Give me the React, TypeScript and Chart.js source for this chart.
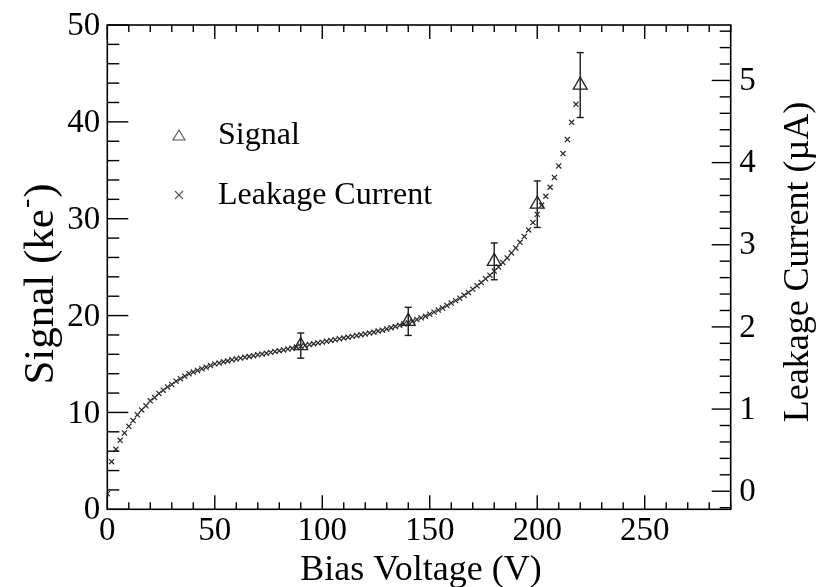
import React, { useEffect, useRef } from "react";
import { Chart, registerables } from "chart.js";

Chart.register(...registerables);

const WIDTH = 822;
const HEIGHT = 587;
const SERIF = '"Liberation Serif", "Times New Roman", Times, serif';

// Signal measurements (bias voltage in V, signal in ke-, symmetric error)
const signalVoltage = [90, 140, 180, 200, 220];
const signalKe = [16.9, 19.4, 25.6, 31.5, 43.8];
const signalErr = [1.3, 1.45, 1.9, 2.4, 3.35];

// Leakage current sweep (bias voltage in V, current in uA)
const leakageVoltage = [
  0, 2, 4, 6, 8, 10, 12, 14, 16, 18,
  20, 22, 24, 26, 28, 30, 32, 34, 36, 38,
  40, 42, 44, 46, 48, 50, 52, 54, 56, 58,
  60, 62, 64, 66, 68, 70, 72, 74, 76, 78,
  80, 82, 84, 86, 88, 90, 92, 94, 96, 98,
  100, 102, 104, 106, 108, 110, 112, 114, 116, 118,
  120, 122, 124, 126, 128, 130, 132, 134, 136, 138,
  140, 142, 144, 146, 148, 150, 152, 154, 156, 158,
  160, 162, 164, 166, 168, 170, 172, 174, 176, 178,
  180, 182, 184, 186, 188, 190, 192, 194, 196, 198,
  200, 202, 204, 206, 208, 210, 212, 214, 216, 218,
];
const leakageCurrent = [
  -0.03, 0.36, 0.51, 0.62, 0.71, 0.79, 0.86, 0.93, 0.99, 1.04,
  1.1, 1.14, 1.19, 1.23, 1.27, 1.3, 1.34, 1.37, 1.4, 1.43,
  1.45, 1.47, 1.49, 1.51, 1.53, 1.55, 1.56, 1.575, 1.585, 1.6,
  1.61, 1.62, 1.63, 1.64, 1.65, 1.66, 1.67, 1.68, 1.69, 1.7,
  1.71, 1.72, 1.73, 1.74, 1.755, 1.765, 1.775, 1.785, 1.795, 1.805,
  1.815, 1.825, 1.835, 1.845, 1.855, 1.865, 1.875, 1.885, 1.895, 1.905,
  1.915, 1.925, 1.935, 1.95, 1.96, 1.975, 1.99, 2.005, 2.02, 2.035,
  2.05, 2.07, 2.09, 2.11, 2.13, 2.155, 2.18, 2.205, 2.23, 2.26,
  2.29, 2.32, 2.35, 2.385, 2.42, 2.46, 2.5, 2.54, 2.585, 2.63,
  2.68, 2.73, 2.785, 2.84, 2.9, 2.96, 3.03, 3.1, 3.18, 3.27,
  3.37, 3.48, 3.59, 3.7, 3.82, 3.96, 4.11, 4.28, 4.49, 4.71,
];

// Axis ranges and labelled ticks
const voltageRange = [0, 290];
const signalRange = [0, 50];
const currentRange = [-0.22, 5.675];
const voltageTicks = [0, 50, 100, 150, 200, 250];
const signalTicks = [0, 10, 20, 30, 40, 50];
const currentTicks = [0, 1, 2, 3, 4, 5];

// Minor tick spacing for each axis
const voltageMinorStep = 10;
const signalMinorStep = 2;
const currentMinorStep = 0.2;

const xTitle = "Bias Voltage (V)";
const yTitleMain = "Signal (ke";
const yTitleSup = "-";
const yTitleEnd = ")";
const y1Title = "Leakage Current (\u00b5A)";
const legendLabels = ["Signal", "Leakage Current"];

function line(ctx: CanvasRenderingContext2D, x1: number, y1: number, x2: number, y2: number) {
  ctx.beginPath();
  ctx.moveTo(x1, y1);
  ctx.lineTo(x2, y2);
  ctx.stroke();
}

function drawMinorMajor(
  min: number,
  max: number,
  step: number,
  majors: number[],
  cb: (v: number, major: boolean) => void
) {
  const start = Math.ceil(min / step - 1e-6);
  const end = Math.floor(max / step + 1e-6);
  for (let k = start; k <= end; k++) {
    const v = k * step;
    const major = majors.some((m) => Math.abs(m - v) < 1e-6);
    cb(v, major);
  }
}

const rootFramePlugin = {
  id: "rootFrame",
  beforeDatasetsDraw(chart: any) {
    const { ctx } = chart;
    const xs = chart.scales.x;
    const ys = chart.scales.y;
    ctx.save();
    ctx.strokeStyle = "#1a1a1a";
    ctx.lineWidth = 1.4;
    signalVoltage.forEach((v, i) => {
      const px = xs.getPixelForValue(v);
      const top = ys.getPixelForValue(signalKe[i] + signalErr[i]);
      const bot = ys.getPixelForValue(signalKe[i] - signalErr[i]);
      line(ctx, px, top, px, bot);
      line(ctx, px - 3.5, top, px + 3.5, top);
      line(ctx, px - 3.5, bot, px + 3.5, bot);
    });
    ctx.restore();
  },
  afterDraw(chart: any) {
    const { ctx, chartArea: a } = chart;
    const xs = chart.scales.x;
    const ys = chart.scales.y;
    const y1s = chart.scales.y1;
    ctx.save();
    ctx.strokeStyle = "#000";
    ctx.lineWidth = 1.6;
    ctx.strokeRect(a.left, a.top, a.right - a.left, a.bottom - a.top);

    ctx.lineWidth = 1.4;
    // voltage ticks, bottom and top edges, pointing inward
    drawMinorMajor(voltageRange[0], voltageRange[1], voltageMinorStep, voltageTicks, (v, major) => {
      const px = xs.getPixelForValue(v);
      const len = major ? 14 : 7;
      line(ctx, px, a.bottom, px, a.bottom - len);
      line(ctx, px, a.top, px, a.top + len);
    });
    // signal ticks on the left edge
    drawMinorMajor(signalRange[0], signalRange[1], signalMinorStep, signalTicks, (v, major) => {
      const py = ys.getPixelForValue(v);
      line(ctx, a.left, py, a.left + (major ? 21 : 12), py);
    });
    // current ticks on the right edge
    drawMinorMajor(currentRange[0], currentRange[1], currentMinorStep, currentTicks, (v, major) => {
      const py = y1s.getPixelForValue(v);
      line(ctx, a.right, py, a.right - (major ? 19 : 11), py);
    });

    // axis titles
    ctx.fillStyle = "#000";
    ctx.textBaseline = "alphabetic";
    ctx.font = `36px ${SERIF}`;
    ctx.textAlign = "center";
    ctx.fillText(xTitle, (a.left + a.right) / 2 + 2, 580);

    // left title, rotated, with superscript
    ctx.save();
    ctx.translate(53, 284);
    ctx.rotate(-Math.PI / 2);
    ctx.textAlign = "left";
    const mainFont = `43px ${SERIF}`;
    const supFont = `28px ${SERIF}`;
    ctx.font = mainFont;
    const w1 = ctx.measureText(yTitleMain).width;
    const w3 = ctx.measureText(yTitleEnd).width;
    ctx.font = supFont;
    const w2 = ctx.measureText(yTitleSup).width + 2;
    const total = w1 + w2 + w3;
    let cx = -total / 2;
    ctx.font = mainFont;
    ctx.fillText(yTitleMain, cx, 0);
    cx += w1;
    ctx.font = supFont;
    ctx.fillText(yTitleSup, cx + 1, -19);
    cx += w2;
    ctx.font = mainFont;
    ctx.fillText(yTitleEnd, cx, 0);
    ctx.restore();

    // right title, rotated
    ctx.save();
    ctx.translate(808, 262);
    ctx.rotate(-Math.PI / 2);
    ctx.textAlign = "center";
    ctx.font = `36px ${SERIF}`;
    ctx.fillText(y1Title, 0, 0);
    ctx.restore();

    // legend
    ctx.strokeStyle = "#555";
    ctx.lineWidth = 1.1;
    ctx.beginPath();
    ctx.moveTo(179, 130);
    ctx.lineTo(185, 140);
    ctx.lineTo(173, 140);
    ctx.closePath();
    ctx.stroke();
    line(ctx, 175, 191, 183, 199);
    line(ctx, 175, 199, 183, 191);
    ctx.fillStyle = "#000";
    ctx.textAlign = "left";
    ctx.font = `32px ${SERIF}`;
    ctx.fillText(legendLabels[0], 218, 143.5);
    ctx.fillText(legendLabels[1], 218, 203.5);
    ctx.restore();
  },
};

const tickFont = { family: SERIF, size: 33, lineHeight: 1 };

export default function App() {
  const canvasRef = useRef<HTMLCanvasElement | null>(null);

  useEffect(() => {
    const canvas = canvasRef.current;
    if (!canvas) return;
    const chart = new Chart(canvas, {
      type: "scatter",
      data: {
        datasets: [
          {
            label: legendLabels[0],
            data: signalVoltage.map((v, i) => ({ x: v, y: signalKe[i] })),
            yAxisID: "y",
            pointStyle: "triangle",
            pointRadius: 8,
            pointBorderWidth: 1.3,
            borderColor: "#222",
            backgroundColor: "rgba(0,0,0,0)",
            showLine: false,
          },
          {
            label: legendLabels[1],
            data: leakageVoltage.map((v, i) => ({ x: v, y: leakageCurrent[i] })),
            yAxisID: "y1",
            pointStyle: "crossRot",
            pointRadius: 3.6,
            pointBorderWidth: 1.25,
            borderColor: "#2a2a2a",
            backgroundColor: "#2a2a2a",
            showLine: false,
          },
        ],
      },
      options: {
        responsive: false,
        maintainAspectRatio: false,
        animation: false,
        devicePixelRatio: 1,
        layout: { padding: { top: 19.3, left: 0, right: 0, bottom: 0 } },
        plugins: {
          legend: { display: false },
          tooltip: { enabled: false },
          title: { display: false },
        },
        scales: {
          x: {
            type: "linear",
            position: "bottom",
            min: voltageRange[0],
            max: voltageRange[1],
            grid: { display: false, drawTicks: false },
            border: { display: false },
            afterBuildTicks: (s: any) => {
              s.ticks = voltageTicks.map((value) => ({ value }));
            },
            afterFit: (s: any) => {
              s.height = HEIGHT - 509.3;
            },
            ticks: {
              autoSkip: false,
              maxRotation: 0,
              padding: 6,
              color: "#000",
              font: tickFont,
            },
          },
          y: {
            type: "linear",
            position: "left",
            min: signalRange[0],
            max: signalRange[1],
            grid: { display: false, drawTicks: false },
            border: { display: false },
            afterBuildTicks: (s: any) => {
              s.ticks = signalTicks.map((value) => ({ value }));
            },
            afterFit: (s: any) => {
              s.width = 107.3;
            },
            ticks: {
              autoSkip: false,
              padding: 7,
              labelOffset: 1.5,
              color: "#000",
              font: tickFont,
            },
          },
          y1: {
            type: "linear",
            position: "right",
            min: currentRange[0],
            max: currentRange[1],
            grid: { display: false, drawTicks: false },
            border: { display: false },
            afterBuildTicks: (s: any) => {
              s.ticks = currentTicks.map((value) => ({ value }));
            },
            afterFit: (s: any) => {
              s.width = WIDTH - 730.7;
            },
            ticks: {
              autoSkip: false,
              padding: 8.5,
              labelOffset: 1,
              color: "#000",
              font: tickFont,
            },
          },
        },
      },
      plugins: [rootFramePlugin],
    });
    return () => chart.destroy();
  }, []);

  return (
    <div
      style={{
        position: "fixed",
        left: 0,
        top: 0,
        width: WIDTH,
        height: HEIGHT,
        background: "#fff",
      }}
    >
      <canvas ref={canvasRef} width={WIDTH} height={HEIGHT} style={{ display: "block" }} />
    </div>
  );
}
